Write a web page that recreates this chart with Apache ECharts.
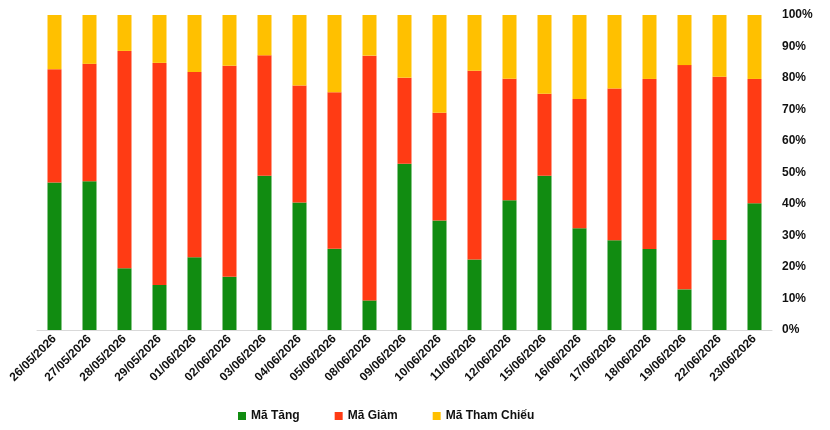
<!DOCTYPE html>
<html>
<head>
<meta charset="utf-8">
<script src="https://cdn.jsdelivr.net/npm/echarts@6/dist/echarts.min.js"></script>
<style>html,body{margin:0;padding:0;background:#fff}#c{width:830px;height:430px}</style>
</head>
<body>
<div id="c"></div>
<script>
var categories = ["26/05/2026","27/05/2026","28/05/2026","29/05/2026","01/06/2026","02/06/2026","03/06/2026","04/06/2026","05/06/2026","08/06/2026","09/06/2026","10/06/2026","11/06/2026","12/06/2026","15/06/2026","16/06/2026","17/06/2026","18/06/2026","19/06/2026","22/06/2026","23/06/2026"];
var maTang = [46.8,47.2,19.6,14.3,23.1,16.9,49.0,40.5,25.8,9.4,52.8,34.8,22.4,41.2,49.0,32.3,28.5,25.7,12.9,28.6,40.2];
var maGiam = [36.0,37.3,69.0,70.5,58.8,67.0,38.2,37.1,49.7,77.7,27.3,34.2,59.9,38.6,26.0,41.0,48.2,54.0,71.2,51.8,39.5];
var maThamChieu = [17.2,15.5,11.4,15.2,18.1,16.1,12.8,22.4,24.5,12.9,19.9,31.0,17.7,20.2,25.0,26.7,23.3,20.3,15.9,19.6,20.3];
var seriesNames = ["Mã Tăng","Mã Giảm","Mã Tham Chiếu"];
var colors = ["#118C11","#FF3B14","#FFC000"];

var chart = echarts.init(document.getElementById('c'), null, {renderer:'canvas'});
var font = 'Liberation Sans, Arial, sans-serif';
function mk(name, data, color){
  return {name:name, type:'bar', stack:'t', data:data, barWidth:14,
    itemStyle:{color:color}, emphasis:{disabled:true}};
}
chart.setOption({
  animation:false,
  color:colors,
  textStyle:{fontFamily:font},
  grid:{left:37, right:58, top:15, bottom:100, containLabel:false},
  legend:{
    top:405, left:233, itemWidth:8, itemHeight:8, itemGap:35, icon:'rect',
    data:seriesNames,
    textStyle:{fontFamily:font, fontWeight:'bold', fontSize:12, color:'#111'}
  },
  xAxis:{
    type:'category', data:categories,
    axisLine:{lineStyle:{color:'#d9d9d9'}},
    axisTick:{show:false},
    axisLabel:{rotate:45, interval:0, fontFamily:font, fontWeight:'bold', fontSize:12, color:'#111', margin:7}
  },
  yAxis:{
    type:'value', position:'right', min:0, max:100, interval:10,
    splitLine:{show:false}, axisLine:{show:false}, axisTick:{show:false},
    axisLabel:{formatter:'{value}%', fontFamily:font, fontWeight:'bold', fontSize:12, color:'#111', margin:10}
  },
  series:[mk(seriesNames[0], maTang, colors[0]), mk(seriesNames[1], maGiam, colors[1]), mk(seriesNames[2], maThamChieu, colors[2])]
});
</script>
</body>
</html>
